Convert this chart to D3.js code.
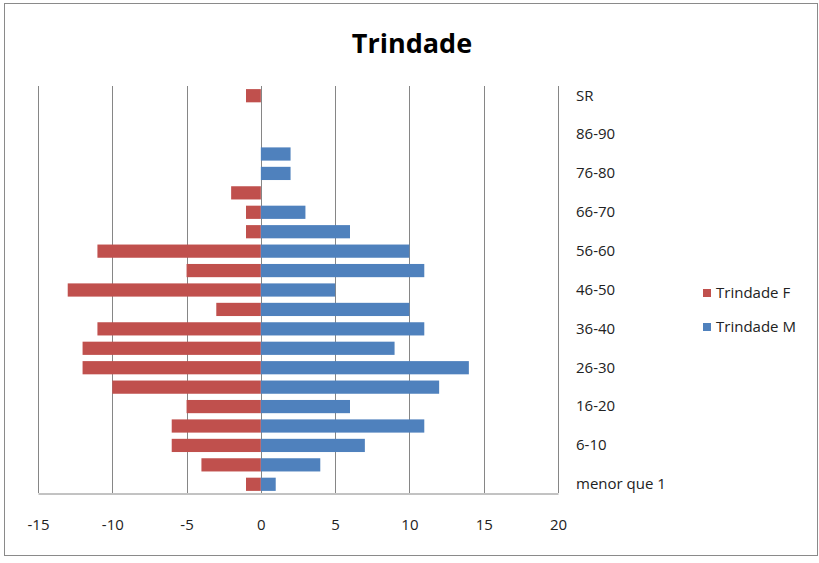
<!DOCTYPE html>
<html>
<head>
<meta charset="utf-8">
<script src="https://cdn.jsdelivr.net/npm/d3@7"></script>
<style>
  body { margin: 0; background: #fff; }
  text { font-family: "Open Sans", sans-serif; fill: #222; }
</style>
</head>
<body>
<svg width="819" height="563"></svg>
<script>
// age groups, bottom to top
const categories = ["menor que 1", "1-5", "6-10", "11-15", "16-20", "21-25", "26-30", "31-35",
  "36-40", "41-45", "46-50", "51-55", "56-60", "61-65", "66-70", "71-75", "76-80", "81-85",
  "86-90", "91 e mais", "SR"];
const femaleValues = [-1, -4, -6, -6, -5, -10, -12, -12, -11, -3, -13, -5, -11, -1, -1, -2, 0, 0, 0, 0, -1];
const maleValues = [1, 4, 7, 11, 6, 12, 14, 9, 11, 10, 5, 11, 10, 6, 3, 0, 2, 2, 0, 0, 0];
const xTicks = [-15, -10, -5, 0, 5, 10, 15, 20];
const seriesNames = ["Trindade F", "Trindade M"];
const colors = ["#C0504D", "#4F81BD"];

var svg = d3.select("svg");

// outer frame
svg.append("rect")
    .attr("x", 4.5).attr("y", 3.5)
    .attr("width", 813).attr("height", 552)
    .attr("fill", "none").attr("stroke", "#8a8a8a");

svg.append("text")
    .attr("x", 412).attr("y", 53)
    .attr("text-anchor", "middle")
    .style("font-size", "27px").style("font-weight", "bold")
    .style("fill", "#000")
    .text("Trindade");

var x = d3.scaleLinear().domain([-15, 20]).range([38, 558]);
var y = d3.scaleBand().domain(categories).range([494, 86]).paddingInner(0.32).paddingOuter(0.16);

// gridlines
svg.append("g").selectAll("line")
    .data(xTicks)
    .enter().append("line")
      .attr("x1", d => Math.round(x(d)) + 0.5).attr("x2", d => Math.round(x(d)) + 0.5)
      .attr("y1", 86).attr("y2", 493)
      .attr("stroke", "#868686");

// bars
var bars = svg.append("g");
[femaleValues, maleValues].forEach(function(vals, s) {
  bars.selectAll(null)
      .data(vals.map((v, i) => ({cat: categories[i], v: v})).filter(d => d.v !== 0))
      .enter().append("rect")
        .attr("x", d => x(Math.min(0, d.v)))
        .attr("width", d => Math.abs(x(d.v) - x(0)))
        .attr("y", d => y(d.cat))
        .attr("height", y.bandwidth())
        .attr("fill", colors[s]);
});

// bottom axis
var xAxis = svg.append("g")
    .attr("transform", "translate(0,493.5)")
    .call(d3.axisBottom(x).tickValues(xTicks).tickSize(0).tickPadding(26).tickFormat(d => String(d)));
xAxis.select(".domain").attr("stroke", "#868686");
xAxis.selectAll("text").style("font-size", "15px").style("font-family", "Open Sans, sans-serif").attr("fill", "#222");

// category labels at right, every other one
var yAxis = svg.append("g")
    .attr("transform", "translate(576,0)")
    .call(d3.axisRight(y).tickValues(categories.filter((c, i) => i % 2 === 0)).tickSize(0).tickPadding(0));
yAxis.select(".domain").remove();
yAxis.selectAll("text").style("font-size", "15px").style("font-family", "Open Sans, sans-serif").attr("fill", "#222");

// legend
var legend = svg.append("g").selectAll("g")
    .data(seriesNames)
    .enter().append("g")
      .attr("transform", (d, i) => "translate(703," + (289 + i * 34) + ")");
legend.append("rect").attr("width", 8).attr("height", 8).attr("fill", (d, i) => colors[i]);
legend.append("text").attr("x", 13).attr("y", 9).style("font-size", "15px").text(d => d);
</script>
</body>
</html>
